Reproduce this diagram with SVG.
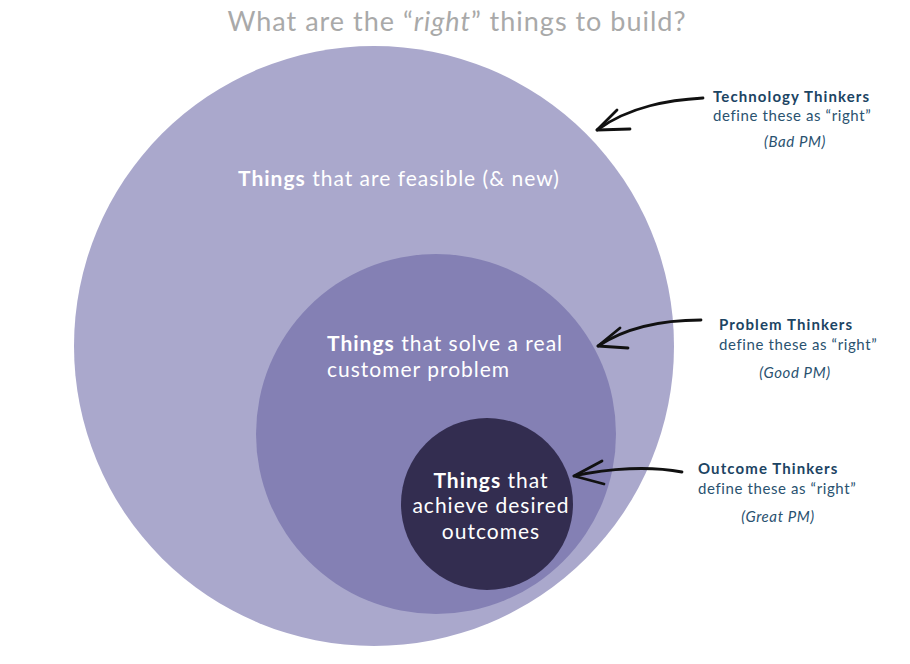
<svg xmlns="http://www.w3.org/2000/svg" width="910" height="664" viewBox="0 0 910 664">
<style>
.lbl{font-family:Lato,"Open Sans",sans-serif;fill:#ffffff;font-size:21px;letter-spacing:1px}
.lbl .b{font-weight:bold}
.side{font-family:Lato,"Open Sans",sans-serif;fill:#2a5270;font-size:15px;letter-spacing:0.6px}
.side .h{font-weight:bold;fill:#1c4463;letter-spacing:1.1px}
.arrow{fill:none;stroke:#111;stroke-width:2.8;stroke-linecap:round;stroke-linejoin:round}
</style>
<rect width="910" height="664" fill="#ffffff"/>
<text x="457" y="31" text-anchor="middle" font-family="Lato,'Open Sans',sans-serif" font-size="27" letter-spacing="1" fill="#a9a9a9">What are the “<tspan font-style="italic">right</tspan>” things to build?</text>
<g id="feasible">
<circle cx="374" cy="346" r="300" fill="#aaa8cc"/>
<text class="lbl" x="238" y="186"><tspan class="b">Things</tspan> that are feasible (&amp; new)</text>
</g>
<g id="problem">
<circle cx="436" cy="434" r="180" fill="#8480b4"/>
<text class="lbl" x="327" y="351"><tspan class="b">Things</tspan> that solve a real</text>
<text class="lbl" x="327" y="377">customer problem</text>
</g>
<g id="outcome">
<circle cx="487" cy="504" r="86" fill="#332d50"/>
<text class="lbl" x="491" y="488" text-anchor="middle"><tspan class="b">Things</tspan> that</text>
<text class="lbl" x="491" y="513" text-anchor="middle">achieve desired</text>
<text class="lbl" x="491" y="539" text-anchor="middle">outcomes</text>
</g>
<g id="tech-label" class="side">
<text x="713" y="102"><tspan class="h">Technology Thinkers</tspan></text>
<text x="713" y="121">define these as “right”</text>
<text x="795" y="147" text-anchor="middle" font-style="italic">(Bad PM)</text>
</g>
<g id="problem-label" class="side">
<text x="719" y="330"><tspan class="h">Problem Thinkers</tspan></text>
<text x="719" y="350">define these as “right”</text>
<text x="795" y="378" text-anchor="middle" font-style="italic">(Good PM)</text>
</g>
<g id="outcome-label" class="side">
<text x="698" y="474"><tspan class="h">Outcome Thinkers</tspan></text>
<text x="698" y="494">define these as “right”</text>
<text x="778" y="522" text-anchor="middle" font-style="italic">(Great PM)</text>
</g>
<g id="connectors">
<path class="arrow" d="M703,98 C670,100 630,106 597,130"/>
<path class="arrow" d="M617,110 L597,130 L630,129"/>
<path class="arrow" d="M701,320 C670,320 630,325 598,346"/>
<path class="arrow" d="M620,328 L598,346 L628,348"/>
<path class="arrow" d="M682,472 C650,466 610,468 574,476"/>
<path class="arrow" d="M602,461 L574,476 L604,484"/>
</g>
</svg>
